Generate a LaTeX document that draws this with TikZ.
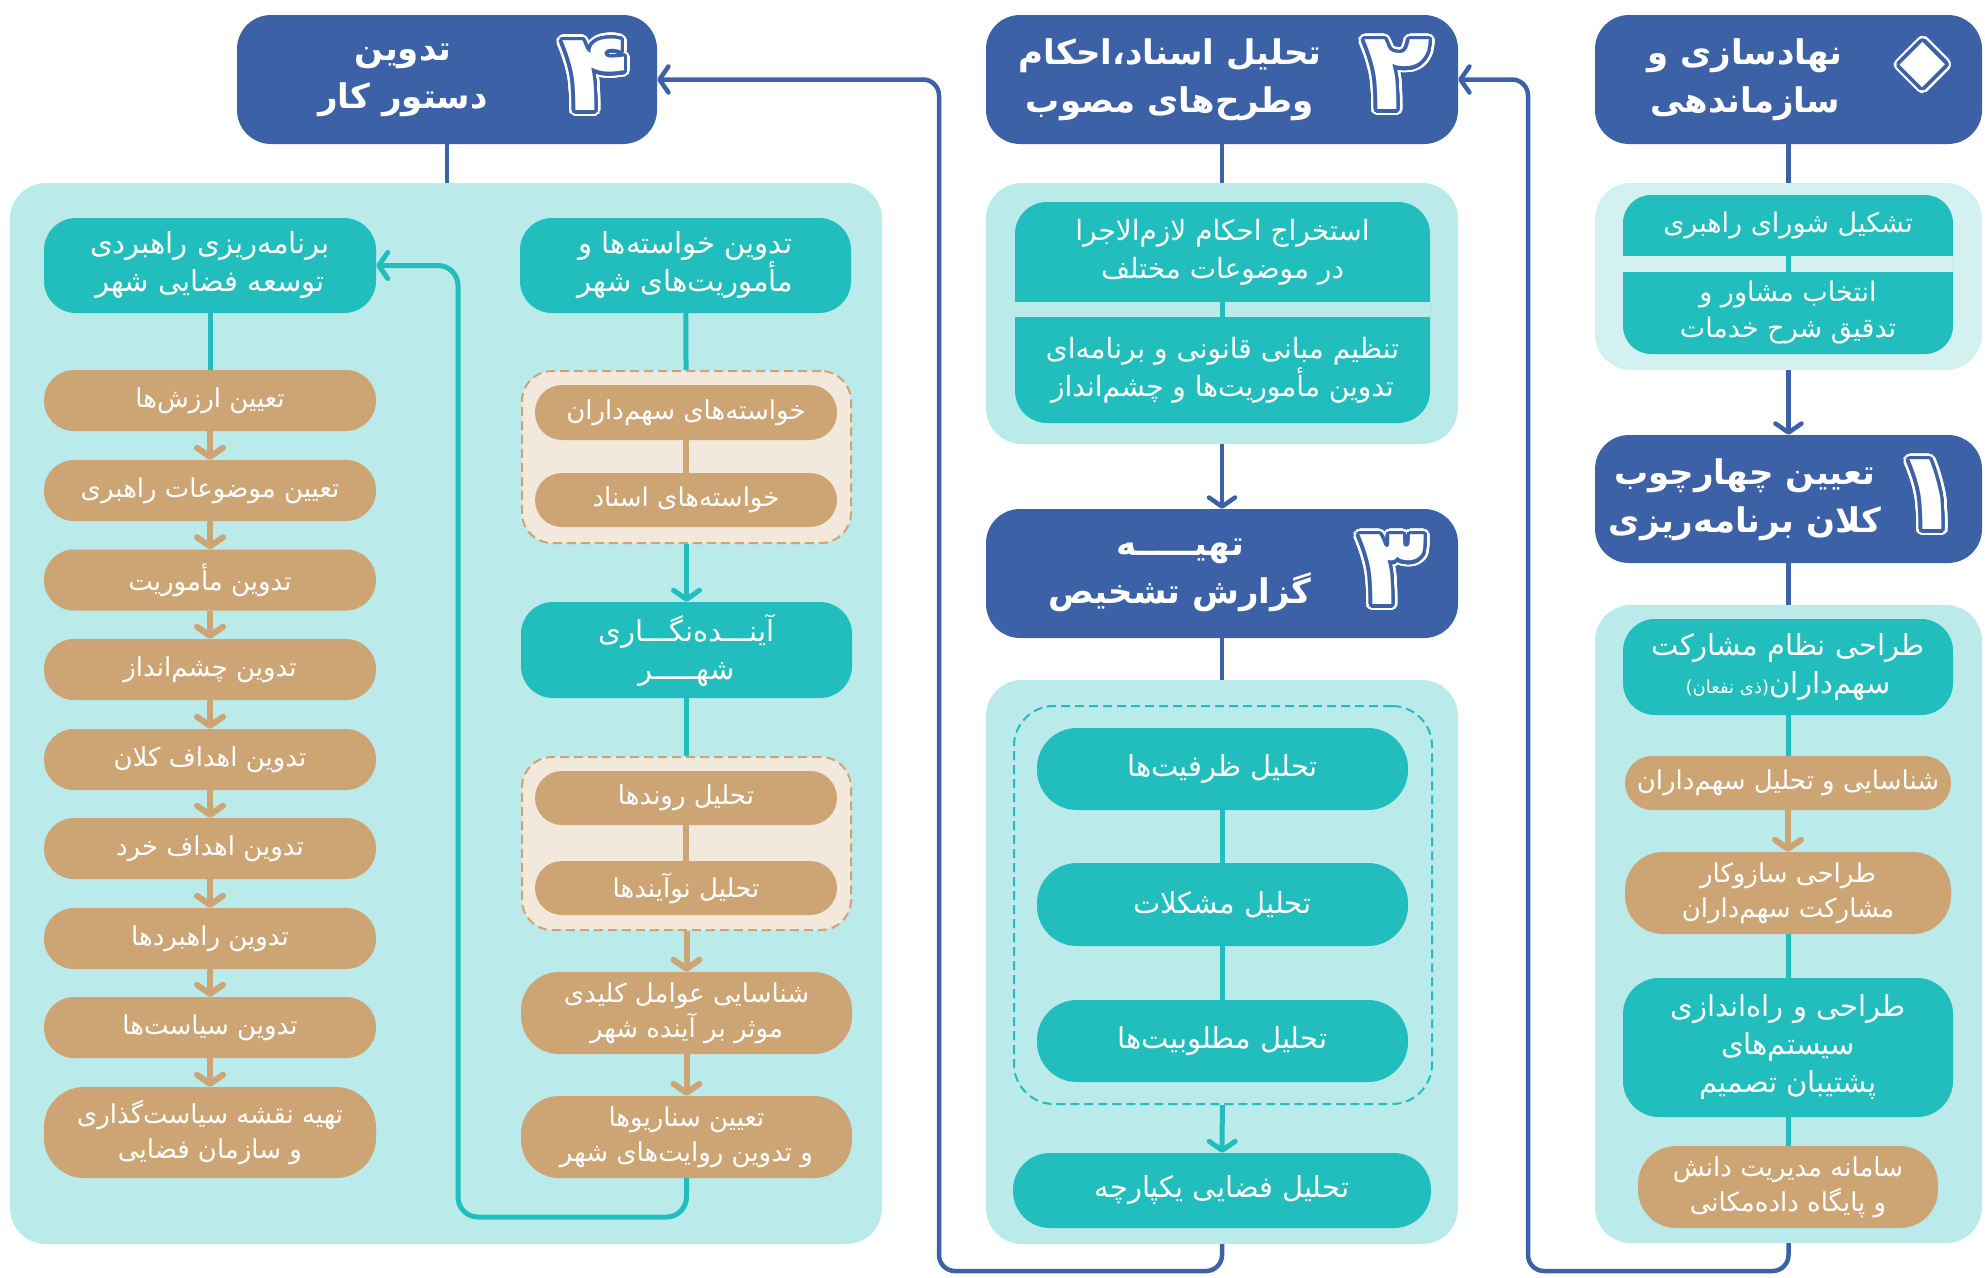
\documentclass[tikz,border=0pt]{standalone}
\usepackage{fontspec}
\usepackage{xcolor}
\usepackage{tikz}
\usepackage{contour}
\usetikzlibrary{arrows.meta}
\TeXXeTstate=1
\newfontfamily\fafont[Script=Arabic]{DejaVu Sans}
\newcommand{\fatx}[1]{\beginR#1\endR}
\newcommand{\bignum}[1]{\rlap{\contourlength{6pt}\contour{white}{#1}}\contourlength{3.5pt}\contour{hblue}{#1}}
\contournumber{32}
\definecolor{hblue}{HTML}{3D61A6}
\definecolor{cteal}{HTML}{22BDBD}
\definecolor{cpanel}{HTML}{BAEAEA}
\definecolor{cpanelb}{HTML}{D2F1F0}
\definecolor{ctan}{HTML}{CDA575}
\definecolor{cgroup}{HTML}{F2E9DC}
\tikzset{
  hbox/.style={rectangle, rounded corners=34, fill=hblue, minimum height=129},
  htext/.style={text=white, align=center, inner sep=0, font=\fafont\bfseries\fontsize{34}{48}\selectfont},
  digit/.style={text=white, inner sep=0, font=\fafont\bfseries\fontsize{110}{110}\selectfont},
  panel/.style={rectangle, rounded corners=36, fill=cpanel},
  tbox/.style={rectangle, rounded corners=32, fill=cteal, text=white, align=center, font=\fafont\fontsize{29}{38}\selectfont},
  pbox/.style={rectangle, rounded corners=30, fill=ctan, text=white, align=center, font=\fafont\fontsize{26}{35}\selectfont},
  grp/.style={rectangle, rounded corners=30, fill=cgroup, draw=ctan, dash pattern=on 9pt off 5pt, line width=2},
  bline/.style={draw=hblue, line width=4.5},
  tline/.style={draw=cteal, line width=5},
  nline/.style={draw=ctan, line width=6},
  arr/.style={-{Straight Barb[length=9pt,width=26pt,round]}}
}
\begin{document}
\begin{tikzpicture}[x=1pt,y=-1pt]
\useasboundingbox (0,0) rectangle (1985,1277);

% panels
\node[panel, fill=cpanelb, minimum width=387, minimum height=187] (p0) at (1788.5,276.5) {};
\node[panel, minimum width=387, minimum height=638] (p1) at (1788.5,924) {};
\node[panel, minimum width=472, minimum height=261] (p2) at (1222,313.5) {};
\node[panel, minimum width=472, minimum height=564] (p3) at (1222,962) {};
\node[panel, minimum width=872, minimum height=1061] (p4) at (446,713.5) {};

% headers
\node[hbox, minimum width=387] (h0) at (1788.5,79.5) {};
\node[htext] (t0) at (1745,80) {\fatx{نهادسازی و}\\\fatx{سازماندهی}};
\node[digit, rotate=45] (d0) at (1938,80) {\bignum{\scalebox{1.7}{۰}}};
\node[hbox, minimum width=387, minimum height=128] (h1) at (1788.5,499) {};
\node[htext] (t1) at (1745,500) {\fatx{تعیین چهارچوب}\\\fatx{کلان برنامه‌ریزی}};
\node[digit] (d1) at (1928,498) {\bignum{۱}};
\node[hbox, minimum width=472] (h2) at (1222,79.5) {};
\node[htext] (t2) at (1170,80) {\fatx{تحلیل اسناد،احکام}\\\fatx{وطرح‌های مصوب}};
\node[digit] (d2) at (1397,78) {\bignum{۲}};
\node[hbox, minimum width=472] (h3) at (1222,573.5) {};
\node[htext] (t3) at (1180,575) {\fatx{تهیـــــه}\\\fatx{گزارش تشخیص}};
\node[digit] (d3) at (1392,573) {\bignum{۳}};
\node[hbox, minimum width=420] (h4) at (447,79.5) {};
\node[htext] (t4) at (403,80) {\fatx{تدوین}\\\fatx{دستور کار}};
\node[digit] (d4) at (595,78) {\bignum{۴}};

% step 0
\fill[cteal, rounded corners=28] (1623,195) rectangle (1953,354);
\fill[cpanelb] (1623,256) rectangle (1953,272);
\node[tbox, fill=none, minimum width=330, minimum height=61, font=\fafont\fontsize{27}{36}\selectfont] (b00) at (1788,225.5) {\fatx{تشکیل شورای راهبری}};
\node[tbox, fill=none, minimum width=330, minimum height=82, font=\fafont\fontsize{27}{36}\selectfont] (b01) at (1788,313) {\fatx{انتخاب مشاور و}\\\fatx{تدقیق شرح خدمات}};

% step 1
\node[tbox, minimum width=330, minimum height=96] (b10) at (1788,667) {\fatx{طراحی نظام مشارکت}\\\fatx{سهم‌داران{\fontsize{18}{20}\selectfont(ذی نفعان)}}};
\node[pbox, rounded corners=27, minimum width=326, minimum height=54] (b11) at (1788,783) {\fatx{شناسایی و تحلیل سهم‌داران}};
\node[pbox, rounded corners=38, minimum width=326, minimum height=82] (b12) at (1788,893) {\fatx{طراحی سازوکار}\\\fatx{مشارکت سهم‌داران}};
\node[tbox, rounded corners=36, minimum width=330, minimum height=139] (b13) at (1788,1047.5) {\fatx{طراحی و راه‌اندازی}\\\fatx{سیستم‌های}\\\fatx{پشتیبان تصمیم}};
\node[pbox, rounded corners=38, minimum width=300, minimum height=82] (b14) at (1788,1187) {\fatx{سامانه مدیریت دانش}\\\fatx{و پایگاه داده‌مکانی}};

% step 2
\fill[cteal, rounded corners=32] (1015,202) rectangle (1430,423);
\fill[cpanel] (1015,302) rectangle (1430,317);
\node[tbox, fill=none, minimum width=415, minimum height=100, font=\fafont\fontsize{28}{38}\selectfont] (b20) at (1222.5,252) {\fatx{استخراج احکام لازم‌الاجرا}\\\fatx{در موضوعات مختلف}};
\node[tbox, fill=none, minimum width=415, minimum height=106, font=\fafont\fontsize{28}{38}\selectfont] (b21) at (1222.5,370) {\fatx{تنظیم مبانی قانونی و برنامه‌ای}\\\fatx{تدوین مأموریت‌ها و چشم‌انداز}};

% step 3
\node[grp, draw=cteal, fill=none, rounded corners=40, minimum width=418, minimum height=398] (g3) at (1223,905) {};
\node[tbox, rounded corners=40, minimum width=371, minimum height=82] (b30) at (1222.5,769) {\fatx{تحلیل ظرفیت‌ها}};
\node[tbox, rounded corners=40, minimum width=371, minimum height=83] (b31) at (1222.5,904.5) {\fatx{تحلیل مشکلات}};
\node[tbox, rounded corners=40, minimum width=371, minimum height=82] (b32) at (1222.5,1041) {\fatx{تحلیل مطلوبیت‌ها}};
\node[tbox, rounded corners=37, minimum width=418, minimum height=75] (b33) at (1222,1190.5) {\fatx{تحلیل فضایی یکپارچه}};

% step 4, left column
\node[tbox, minimum width=332, minimum height=95] (s0) at (210,265.5) {\fatx{برنامه‌ریزی راهبردی}\\\fatx{توسعه فضایی شهر}};
\node[pbox, minimum width=332, minimum height=61] (l1) at (210,400.5) {\fatx{تعیین ارزش‌ها}};
\node[pbox, minimum width=332, minimum height=61] (l2) at (210,490.5) {\fatx{تعیین موضوعات راهبری}};
\node[pbox, minimum width=332, minimum height=61] (l3) at (210,580) {\fatx{تدوین مأموریت}};
\node[pbox, minimum width=332, minimum height=61] (l4) at (210,669.5) {\fatx{تدوین چشم‌انداز}};
\node[pbox, minimum width=332, minimum height=61] (l5) at (210,759.5) {\fatx{تدوین اهداف کلان}};
\node[pbox, minimum width=332, minimum height=61] (l6) at (210,848.5) {\fatx{تدوین اهداف خرد}};
\node[pbox, minimum width=332, minimum height=61] (l7) at (210,938.5) {\fatx{تدوین راهبردها}};
\node[pbox, minimum width=332, minimum height=61] (l8) at (210,1027.5) {\fatx{تدوین سیاست‌ها}};
\node[pbox, rounded corners=40, minimum width=332, minimum height=91] (l9) at (210,1132.5) {\fatx{تهیه نقشه سیاست‌گذاری}\\\fatx{و سازمان فضایی}};

% step 4, right column
\node[tbox, minimum width=331, minimum height=95] (r0) at (685.5,265.5) {\fatx{تدوین خواسته‌ها و}\\\fatx{مأموریت‌های شهر}};
\node[grp, minimum width=329, minimum height=172] (g41) at (686.5,457) {};
\node[pbox, rounded corners=27, minimum width=302, minimum height=55] (r1) at (686,412.5) {\fatx{خواسته‌های سهم‌داران}};
\node[pbox, rounded corners=27, minimum width=302, minimum height=54] (r2) at (686,500) {\fatx{خواسته‌های اسناد}};
\node[tbox, minimum width=331, minimum height=96] (r3) at (686.5,650) {\fatx{آینـــده‌نگـــاری}\\\fatx{شهـــــر}};
\node[grp, minimum width=329, minimum height=173] (g42) at (686.5,843.5) {};
\node[pbox, rounded corners=27, minimum width=302, minimum height=54] (r4) at (686,798) {\fatx{تحلیل روندها}};
\node[pbox, rounded corners=27, minimum width=302, minimum height=54] (r5) at (686,888) {\fatx{تحلیل نوآیندها}};
\node[pbox, rounded corners=38, minimum width=331, minimum height=82] (r6) at (686.5,1013) {\fatx{شناسایی عوامل کلیدی}\\\fatx{موثر بر آینده شهر}};
\node[pbox, rounded corners=38, minimum width=331, minimum height=82] (r7) at (686.5,1137) {\fatx{تعیین سناریوها}\\\fatx{و تدوین روایت‌های شهر}};

% connectors
\draw[bline] (h0) -- (p0);
\draw[bline, arr] (p0) -- (h1);
\draw[bline] (h1) -- (p1);
\draw[bline] (h2) -- (p2);
\draw[bline, arr] (p2) -- (h3);
\draw[bline] (h3) -- (p3);
\draw[bline] (h4) -- (h4 |- p4.north);
\draw[tline] (b00) -- (b01);
\draw[tline] (b20) -- (b21);
\draw[tline] (b10) -- (b11);
\draw[nline, arr] (b11) -- (b12);
\draw[tline] (b12) -- (b13);
\draw[tline] (b13) -- (b14);
\draw[tline] (b30) -- (b31);
\draw[tline] (b31) -- (b32);
\draw[tline, arr] (g3) -- (b33);
\draw[tline] (s0) -- (l1);
\foreach \a/\b in {l1/l2,l2/l3,l3/l4,l4/l5,l5/l6,l6/l7,l7/l8,l8/l9}
  \draw[nline, arr] (\a) -- (\b);
\draw[tline] (r0) -- (g41);
\draw[nline] (r1) -- (r2);
\draw[tline, arr] (g41) -- (r3);
\draw[tline] (r3) -- (g42);
\draw[nline] (r4) -- (r5);
\draw[nline, arr] (g42) -- (r6);
\draw[nline, arr] (r6) -- (r7);

% return paths
\coordinate (k1) at (1528,1271);
\coordinate (k3) at (939,1271);
\coordinate (k4) at (458,1217);
\draw[bline, arr, rounded corners=16] (p1.south) |- (k1) |- (h2.east);
\draw[bline, arr, rounded corners=16] (p3.south) |- (k3) |- (h4.east);
\draw[tline, arr, rounded corners=20] (r7.south) |- (k4) |- (s0.east);
\end{tikzpicture}
\end{document}
